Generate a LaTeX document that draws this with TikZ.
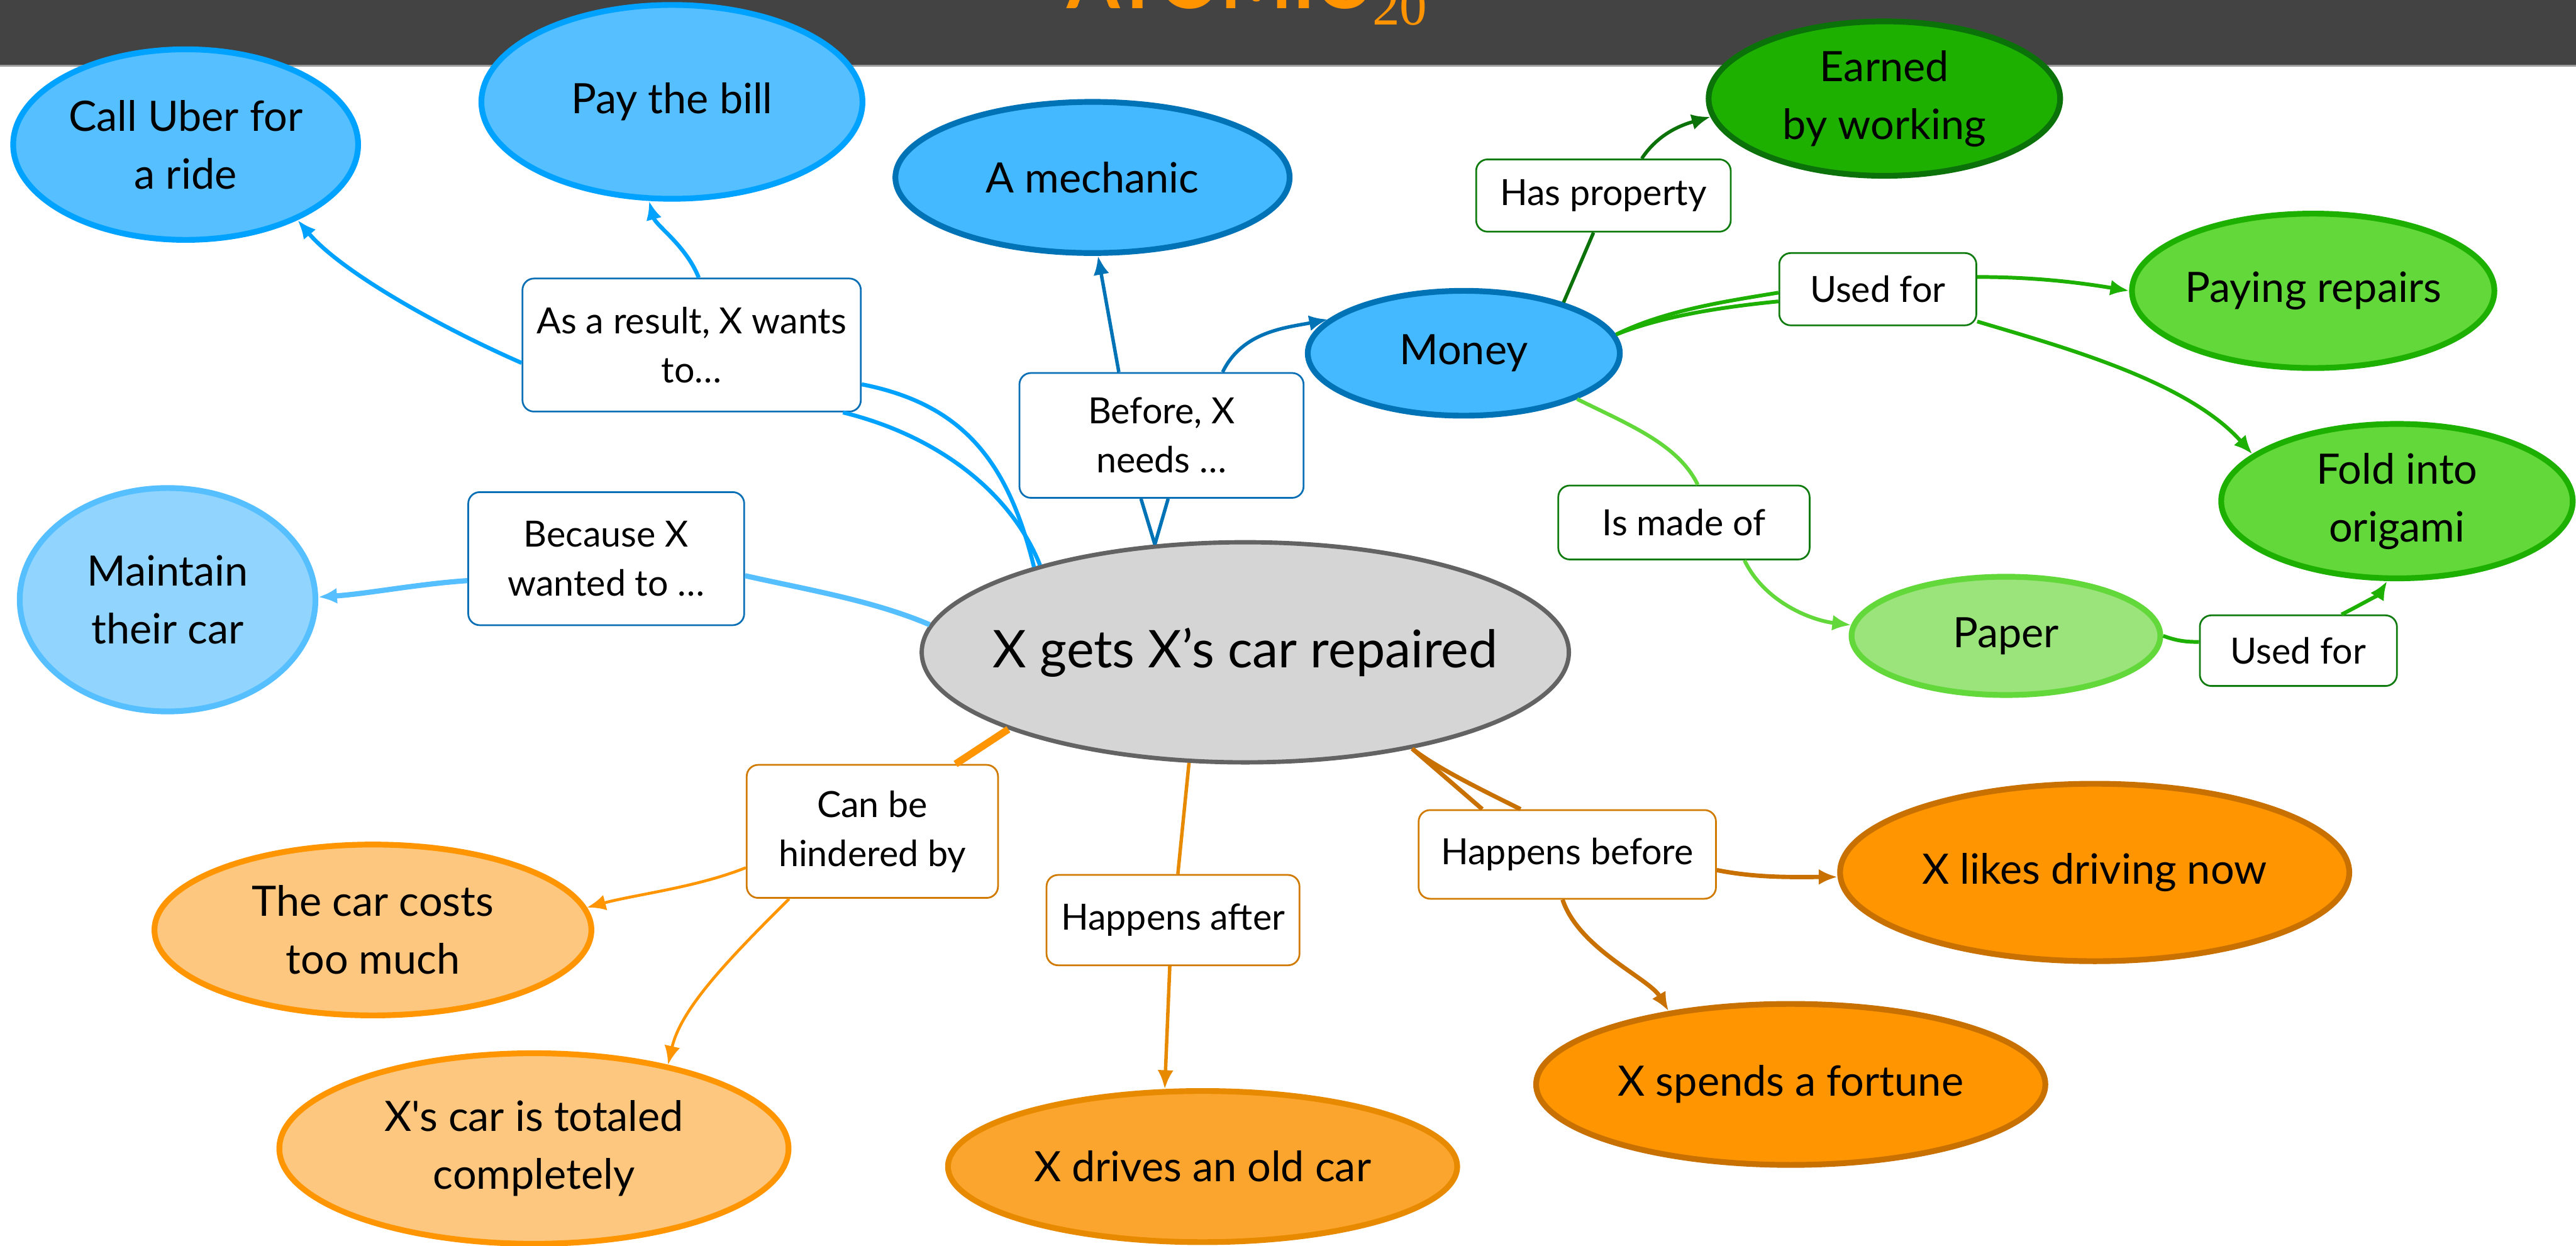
\documentclass[tikz,border=0pt]{standalone}
\usepackage{fontspec}
\setmainfont{Lato}
\newfontfamily\subfont{Liberation Serif}
\usetikzlibrary{arrows.meta,shapes.geometric}

% palette
\definecolor{bannerbg}{HTML}{434343}
\definecolor{bannerline}{HTML}{9A9A9A}
\definecolor{titleorange}{HTML}{FF9300}
\definecolor{blueA}{HTML}{00A2FF}
\definecolor{blueAfill}{HTML}{55BFFF}
\definecolor{blueB}{HTML}{0073B7}
\definecolor{blueBfill}{HTML}{45B9FF}
\definecolor{blueC}{HTML}{55BFFF}
\definecolor{blueCfill}{HTML}{91D5FF}
\definecolor{blueLab}{HTML}{0A6FB5}
\definecolor{greenA}{HTML}{0B7209}
\definecolor{greenAfill}{HTML}{1DB000}
\definecolor{greenB}{HTML}{1DB000}
\definecolor{greenBfill}{HTML}{62D83A}
\definecolor{greenC}{HTML}{62D83A}
\definecolor{greenCfill}{HTML}{9AE47B}
\definecolor{greenLab}{HTML}{107C10}
\definecolor{orangeA}{HTML}{FF9500}
\definecolor{orangeAfill}{HTML}{FDC77F}
\definecolor{orangeB}{HTML}{E88A00}
\definecolor{orangeBfill}{HTML}{FCA52E}
\definecolor{orangeC}{HTML}{C87000}
\definecolor{orangeCfill}{HTML}{FF9500}
\definecolor{orangeLab}{HTML}{D07A00}
\definecolor{hubfill}{HTML}{D5D5D5}
\definecolor{hubline}{HTML}{636363}

\tikzset{
  concept/.style={ellipse, draw, line width=2pt, align=center, inner sep=0pt,
    font=\fontsize{14.5}{20}\selectfont},
  hub/.style={ellipse, draw=hubline, fill=hubfill, line width=1.5pt,
    inner xsep=-0.4cm, inner ysep=0pt, font=\fontsize{18}{22}\selectfont},
  relbox/.style={rectangle, rounded corners=0.14cm, fill=white, line width=0.6pt,
    align=center, inner sep=0pt, font=\fontsize{12.5}{17}\selectfont},
  tip/.style={-{Latex[length=6.5pt,width=5.5pt]}},
}

\begin{document}
\begin{tikzpicture}[x=0.02cm,y=-0.02cm]
\useasboundingbox (0,0) rectangle (1568,758);
\clip (0,0) rectangle (1568,758);

% header band with the title
\fill[bannerbg] (0,-5) rectangle (1568,40);
\draw[bannerline, line width=0.5pt] (0,40) -- (1568,40);
\node[anchor=base west, inner sep=0pt, text=titleorange,
  font=\fontsize{26.5}{26.5}\selectfont\bfseries] (title) at (649,5) {ATOMIC};
\node[anchor=base west, inner sep=0pt, text=titleorange,
  font=\fontsize{19}{19}\selectfont\subfont] (titlesub) at (835,15) {20};

% concepts
\node[hub, minimum width=7.88cm, minimum height=2.68cm] (c) at (758,397) {X gets X’s car repaired};

\node[concept, draw=blueA, fill=blueAfill, minimum width=4.2cm, minimum height=2.32cm] (uber) at (113,88) {Call Uber for\\a ride};
\node[concept, draw=blueA, fill=blueAfill, minimum width=4.64cm, minimum height=2.36cm] (bill) at (409,62) {Pay the bill};
\node[concept, draw=blueB, fill=blueBfill, minimum width=4.8cm, minimum height=1.84cm] (mech) at (665,108) {A mechanic};
\node[concept, draw=blueB, fill=blueBfill, minimum width=3.8cm, minimum height=1.52cm] (money) at (891,215) {Money};
\node[concept, draw=blueC, fill=blueCfill, minimum width=3.6cm, minimum height=2.72cm] (maint) at (102,365) {Maintain\\their car};

\node[concept, draw=greenA, fill=greenAfill, minimum width=4.28cm, minimum height=1.88cm] (earn) at (1147,60) {Earned\\by working};
\node[concept, draw=greenB, fill=greenBfill, minimum width=4.28cm, minimum height=1.88cm] (repairs) at (1408,177) {Paying repairs};
\node[concept, draw=greenB, fill=greenBfill, minimum width=4.28cm, minimum height=1.88cm] (fold) at (1459,305) {Fold into\\origami};
\node[concept, draw=greenC, fill=greenCfill, minimum width=3.76cm, minimum height=1.44cm] (paper) at (1221,387) {Paper};

\node[concept, draw=orangeA, fill=orangeAfill, minimum width=5.32cm, minimum height=2.08cm] (costs) at (227,566) {The car costs\\too much};
\node[concept, draw=orangeA, fill=orangeAfill, minimum width=6.2cm, minimum height=2.32cm] (totaled) at (325,699) {\addfontfeatures{Ligatures=TeXOff}X's car is totaled\\completely};
\node[concept, draw=orangeB, fill=orangeBfill, minimum width=6.2cm, minimum height=1.84cm] (olds) at (732,710) {X drives an old car};
\node[concept, draw=orangeC, fill=orangeCfill, minimum width=6.2cm, minimum height=1.96cm] (fortune) at (1090,660) {X spends a fortune};
\node[concept, draw=orangeC, fill=orangeCfill, minimum width=6.2cm, minimum height=2.16cm] (likes) at (1275,531) {X likes driving now};

% relation labels
\node[relbox, draw=blueLab, minimum width=4.12cm, minimum height=1.62cm] (lres) at (421,210) {As a result, X wants\\to…};
\node[relbox, draw=blueLab, minimum width=3.46cm, minimum height=1.52cm] (lbefore) at (707,265) {Before, X\\needs …};
\node[relbox, draw=blueLab, minimum width=3.36cm, minimum height=1.62cm] (lbecause) at (369,340) {Because X\\wanted to …};
\node[relbox, draw=greenLab, minimum width=3.1cm, minimum height=0.88cm] (lhas) at (976,119) {Has property};
\node[relbox, draw=greenLab, minimum width=2.4cm, minimum height=0.88cm] (lused) at (1143,176) {Used for};
\node[relbox, draw=greenLab, minimum width=3.06cm, minimum height=0.9cm] (lmade) at (1025,318) {Is made of};
\node[relbox, draw=greenLab, minimum width=2.4cm, minimum height=0.86cm] (lpaper) at (1399,396) {Used for};
\node[relbox, draw=orangeLab, minimum width=3.06cm, minimum height=1.62cm] (lhind) at (531,506) {Can be\\hindered by};
\node[relbox, draw=orangeLab, minimum width=3.08cm, minimum height=1.1cm] (lafter) at (714,560) {Happens after};
\node[relbox, draw=orangeLab, minimum width=3.62cm, minimum height=1.08cm] (lhbef) at (954,520) {Happens before};

% "As a result, X wants to..."
\begin{scope}[draw=blueA, line width=1.4pt]
  \draw (c.158) .. controls +(-16,-65) and +(61,12) .. (lres.347);
  \draw (c.157) .. controls +(-18,-45) and +(57,14) .. (lres.336);
  \draw[tip] (lres.186) .. controls +(-48,-21) and +(27,32) .. (uber.326);
  \draw[tip] (lres.84) .. controls +(-8,-20) and +(4,15) .. (bill.257);
\end{scope}

% "Because X wanted to ..."
\begin{scope}[draw=blueC, line width=1.8pt]
  \draw (c.175) .. controls +(-35,-15) and +(35,8) .. (lbecause.353);
  \draw[tip] (lbecause.189) .. controls +(-30,2) and +(30,-2) .. (maint.1);
\end{scope}

% "Before, X needs ..."
\begin{scope}[draw=blueB, line width=1.2pt]
  \draw (c.130) -- (lbefore.252);
  \draw (c.130) -- (lbefore.276);
  \draw[tip] (lbefore.124) -- (mech.274);
  \draw[tip] (lbefore.46) .. controls +(12,-25) and +(-25,5) .. (money.166);
\end{scope}

% Money relations
\begin{scope}[draw=greenA, line width=1.2pt]
  \draw (money.27) -- (lhas.255);
  \draw[tip] (lhas.44) .. controls +(10,-15) and +(-18,5) .. (earn.186);
\end{scope}
\begin{scope}[draw=greenB, line width=1.3pt]
  \draw (money.7) .. controls +(30,-15) and +(-30,5) .. (lused.182);
  \draw (money.7) .. controls +(30,-12) and +(-30,3) .. (lused.187);
  \draw[tip] (lused.7) .. controls +(35,0) and +(-30,-5) .. (repairs.180);
  \draw[tip] (lused.342) .. controls +(50,15) and +(-40,-45) .. (fold.162);
\end{scope}
\begin{scope}[draw=greenC, line width=1.3pt]
  \draw (money.338) .. controls +(30,15) and +(-12,-25) .. (lmade.70);
  \draw[tip] (lmade.328) .. controls +(12,25) and +(-25,-3) .. (paper.176);
\end{scope}
\begin{scope}[draw=greenB, line width=1.3pt]
  \draw (paper.0) .. controls +(8,3) and +(-8,0) .. (lpaper.175);
  \draw[tip] (lpaper.40) .. controls +(10,-5) and +(-5,8) .. (fold.263);
\end{scope}

% "Can be hindered by"
\draw[orangeA, line width=2.5pt] (c.198) -- (lhind.39);
\begin{scope}[draw=orangeA, line width=1pt]
  \draw[tip] (lhind.196) .. controls +(-30,12) and +(30,-8) .. (costs.6);
  \draw[tip] (lhind.219) .. controls +(-35,35) and +(8,-35) .. (totaled.32);
\end{scope}

% "Happens after"
\begin{scope}[draw=orangeB, line width=1.2pt]
  \draw (c.243) -- (lafter.84);
  \draw[tip] (lafter.266) -- (olds.116);
\end{scope}

% "Happens before"
\begin{scope}[draw=orangeC, line width=1.5pt]
  \draw (c.330) -- (lhbef.152);
  \draw (c.330) .. controls +(15,12) and +(-20,-10) .. (lhbef.136);
  \draw[tip] (lhbef.354) .. controls +(25,5) and +(-25,0) .. (likes.181);
  \draw[tip] (lhbef.264) .. controls +(10,30) and +(-12,-20) .. (fortune.149);
\end{scope}
\end{tikzpicture}
\end{document}
